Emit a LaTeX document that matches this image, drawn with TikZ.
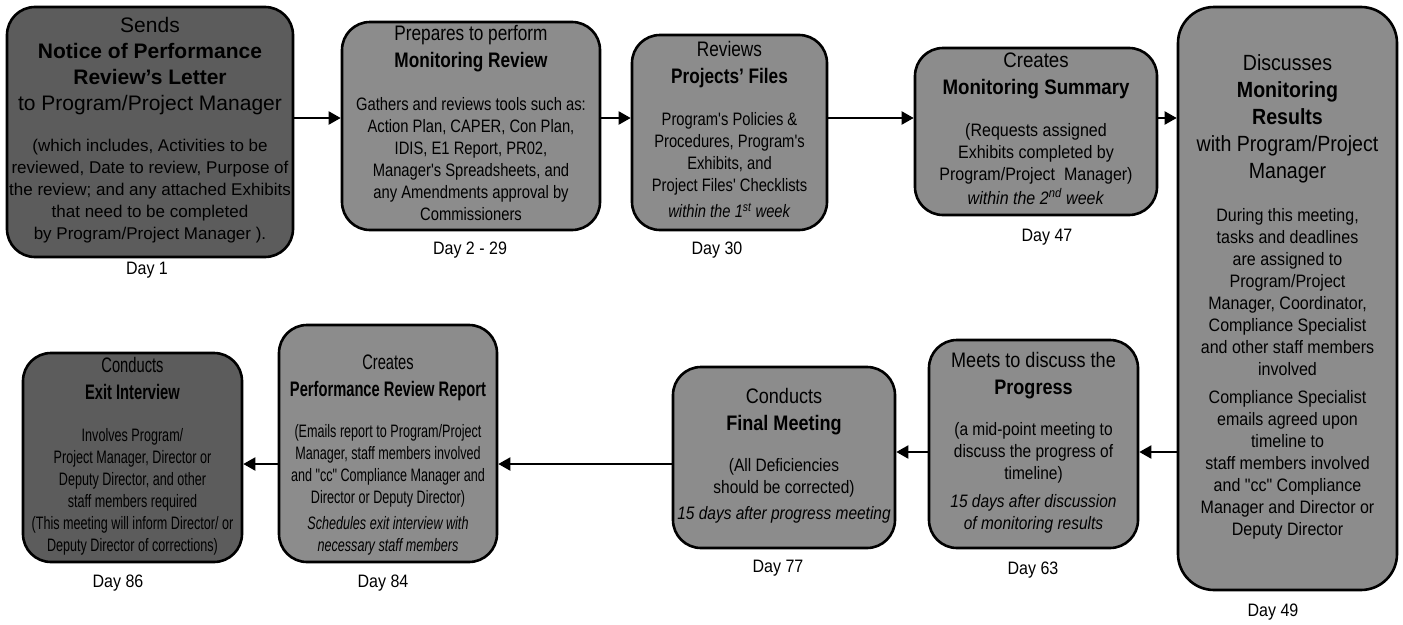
\documentclass[tikz,border=0pt]{standalone}
\usepackage{fontspec}
\setmainfont{Liberation Sans}
\newfontfamily\faceN[FakeStretch=0.89]{Liberation Sans}
\newfontfamily\faceP[FakeStretch=0.86]{Liberation Sans}
\newfontfamily\faceM[FakeStretch=0.82]{Liberation Sans}
\newfontfamily\faceK[FakeStretch=0.70]{Liberation Sans}
\usepackage{xcolor}
\usetikzlibrary{arrows.meta}

\definecolor{lightfill}{gray}{0.55}
\definecolor{darkfill}{gray}{0.36}

% smaller text under the heading of a box
\newcommand{\detail}[2][18]{{\fontsize{#1}{22}\selectfont
  \begin{tabular}[t]{@{}c@{}}#2\end{tabular}}}

\begin{document}
\begin{tikzpicture}[x=1pt, y=-1pt,
    stage/.style={draw=black, line width=2.6pt, rounded corners=28pt, fill=lightfill,
                  inner sep=0pt, align=center, font={#1\fontsize{21}{27}\selectfont}},
    darkstage/.style={fill=darkfill},
    day/.style={font=\faceN\fontsize{18}{22}\selectfont},
    flow/.style={line width=2pt, -{Triangle[length=12pt,width=13pt]}}]

  \useasboundingbox (0, 0) rectangle (1403, 624);

  % rows of the connectors
  \coordinate (toprow) at (0, 118);
  \coordinate (midrow) at (0, 452);
  \coordinate (lowrow) at (0, 464);

  % top row
  \node [stage=\rmfamily, darkstage, minimum width=286pt, minimum height=250pt]
        (sends) at (150, 132) {Sends\\[-1pt]
    \textbf{Notice of Performance}\\[-1pt]
    \textbf{Review’s Letter}\\[-1pt]
    to Program/Project Manager\\[14pt]
    \detail[17]{(which includes, Activities to be\\
    reviewed, Date to review, Purpose of\\
    the review; and any attached Exhibits\\
    that need to be completed\\
    by Program/Project Manager ).}};

  \node [stage=\faceM, minimum width=258pt, minimum height=208pt]
        (prepare) at (471, 126) {Prepares to perform\\
    \textbf{Monitoring Review}\\[16pt]
    \detail{Gathers and reviews tools such as:\\
    Action Plan, CAPER, Con Plan,\\
    IDIS, E1 Report, PR02,\\
    Manager's Spreadsheets, and\\
    any Amendments approval by\\
    Commissioners}};

  \node [stage=\faceM, minimum width=195pt, minimum height=195pt]
        (review) at (729.5, 132.5) {Reviews\\
    \textbf{Projects’ Files}\\[15pt]
    \detail{Program's Policies \&\\
    Procedures, Program's\\
    Exhibits, and\\
    Project Files' Checklists\\[4pt]
    \textit{within the 1\textsuperscript{st} week}}};

  \node [stage=\faceN, minimum width=242pt, minimum height=167pt]
        (summary) at (1036, 131.5) {Creates\\
    \textbf{Monitoring Summary}\\[15pt]
    \detail{(Requests assigned\\
    Exhibits completed by\\
    Program/Project\ \ Manager)\\[2pt]
    \textit{within the 2\textsuperscript{nd} week}}};

  \node [stage=\faceN, minimum width=219pt, minimum height=583pt, rounded corners=36pt,
         font=\faceN\fontsize{22}{27}\selectfont]
        (discuss) at (1287.5, 298.5) {Discusses\\
    \textbf{Monitoring}\\
    \textbf{Results}\\
    with Program/Project\\
    Manager\\[16pt]
    \detail{During this meeting,\\
    tasks and deadlines\\
    are assigned to\\
    Program/Project\\
    Manager, Coordinator,\\
    Compliance Specialist\\
    and other staff members\\
    involved\\[6pt]
    Compliance Specialist\\
    emails agreed upon\\
    timeline to\\
    staff members involved\\
    and "cc" Compliance\\
    Manager and Director or\\
    Deputy Director}};

  % bottom row
  \node [stage=\faceP, minimum width=209pt, minimum height=208pt]
        (progress) at (1033.5, 444) {Meets to discuss the\\
    \textbf{Progress}\\[14pt]
    \detail{(a mid-point meeting to\\
    discuss the progress of\\
    timeline)\\[6pt]
    \textit{15 days after discussion}\\
    \textit{of monitoring results}}};

  \node [stage=\faceP, minimum width=222pt, minimum height=181pt]
        (final) at (784, 457.5) {Conducts\\
    \textbf{Final Meeting}\\[14pt]
    \detail{(All Deficiencies\\
    should be corrected)\\[4pt]
    \textit{15 days after progress meeting}}};

  \node [stage=\faceK, minimum width=218pt, minimum height=237pt]
        (report) at (388, 443.5) {\rule{0pt}{40pt}Creates\\
    \textbf{Performance Review Report}\\[14pt]
    \detail{(Emails report to Program/Project\\
    Manager, staff members involved\\
    and "cc" Compliance Manager and\\
    Director or Deputy Director)\\[4pt]
    \textit{Schedules exit interview with}\\
    \textit{necessary staff members}}};

  \node [stage=\faceK, darkstage, minimum width=219pt, minimum height=209pt]
        (exit) at (132.5, 457.5) {Conducts\\
    \textbf{Exit Interview}\\[15pt]
    \detail{Involves Program/\\
    Project Manager, Director or\\
    Deputy Director, and other\\
    staff members required\\
    (This meeting will inform Director/ or\\
    Deputy Director of corrections)}};

  % days
  \node [day] (day1)  at (147,  270) {Day 1};
  \node [day] (day2)  at (470,  250) {Day 2 - 29};
  \node [day] (day30) at (717,  250) {Day 30};
  \node [day] (day47) at (1047, 237) {Day 47};
  \node [day] (day49) at (1273, 612) {Day 49};
  \node [day] (day63) at (1033, 570) {Day 63};
  \node [day] (day77) at (778,  568) {Day 77};
  \node [day] (day84) at (383,  583) {Day 84};
  \node [day] (day86) at (118,  583) {Day 86};

  % arrows
  \draw [flow] (sends.east    |- toprow) -- (prepare.west  |- toprow);
  \draw [flow] (prepare.east  |- toprow) -- (review.west   |- toprow);
  \draw [flow] (review.east   |- toprow) -- (summary.west  |- toprow);
  \draw [flow] (summary.east  |- toprow) -- (discuss.west  |- toprow);
  \draw [flow] (discuss.west  |- midrow) -- (progress.east |- midrow);
  \draw [flow] (progress.west |- midrow) -- (final.east    |- midrow);
  \draw [flow] (final.west    |- lowrow) -- (report.east   |- lowrow);
  \draw [flow] (report.west   |- lowrow) -- (exit.east     |- lowrow);

\end{tikzpicture}
\end{document}
